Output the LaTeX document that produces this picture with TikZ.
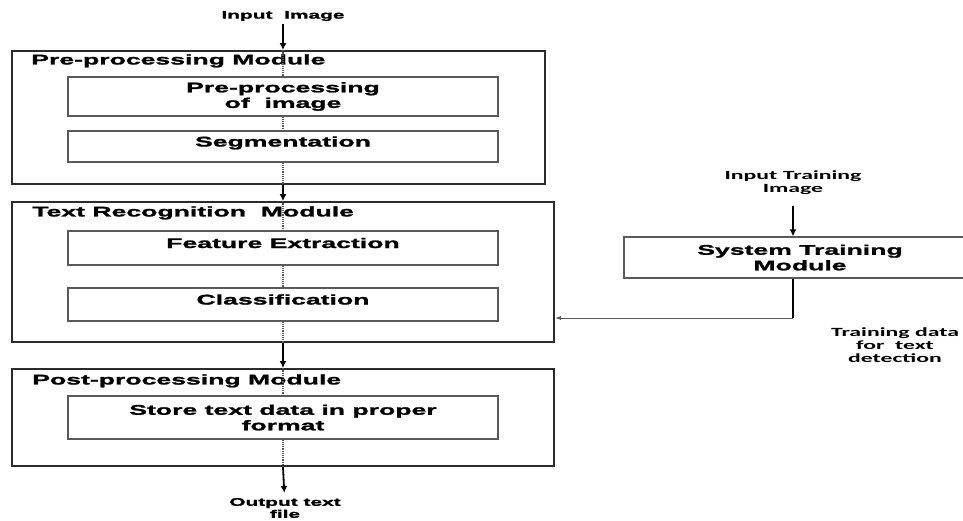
\documentclass[tikz,border=0pt]{standalone}
\usepackage{fontspec}
\newfontfamily\wfont[FakeStretch=1.9,FakeBold=1.6]{Liberation Sans}
\newfontfamily\cfont[FakeStretch=1.9]{Carlito}
\usetikzlibrary{arrows.meta,positioning,calc}
\definecolor{frame}{HTML}{2B2B2B}
\definecolor{inner}{HTML}{5A5A5A}

\begin{document}
\begin{tikzpicture}[x=1pt,y=-1pt,
  module/.style={draw=frame,line width=1.8pt},
  stage/.style={draw=inner,line width=1.3pt,minimum width=430pt,align=center,font=\wfont\bfseries\fontsize{14}{15.5}\selectfont},
  lift/.style={text height=10pt,text depth=10pt},
  title/.style={inner sep=0pt,font=\wfont\bfseries\fontsize{14}{15.5}\selectfont},
  note/.style={inner sep=0pt,align=center,font=\wfont\bfseries\fontsize{11}{12}\selectfont},
  side/.style={inner sep=0pt,align=center,font=\cfont\bfseries\fontsize{12.5}{13}\selectfont},
  flow/.style={-{Latex[length=7pt,width=7pt]},line width=1.8pt},
  link/.style={densely dotted,inner,line width=1.2pt},
  back/.style={-{Latex[length=6pt,width=4pt]},inner,line width=1pt}]
\useasboundingbox (0,0) rectangle (963,520);
\node[module,minimum width=533pt,minimum height=133pt] (pre) at (278.5,117.5) {};
\node[module,minimum width=542pt,minimum height=140pt] (rec) at (283,272) {};
\node[module,minimum width=542pt,minimum height=97pt] (post) at (283,417.5) {};
\node[title,below right=4pt and 20pt of pre.north west] (pretitle) {Pre-processing Module};
\node[title,below right=5pt and 21pt of rec.north west] (rectitle) {Text Recognition\ \ Module};
\node[title,below right=6pt and 21pt of post.north west] (posttitle) {Post-processing Module};
\node[stage,minimum height=39pt] (ppimg) at (283,96.5) {Pre-processing\\of\ \ image};
\node[stage,lift,minimum height=31pt] (seg) at (283,146.5) {Segmentation};
\node[stage,lift,minimum height=34pt] (feat) at (283,248) {Feature Extraction};
\node[stage,lift,minimum height=33pt] (cls) at (283,304.5) {Classification};
\node[stage,minimum height=43pt] (store) at (283,417.5) {Store text data in proper\\format};
\node[note] (inimg) at (283,16) {Input\ \ Image};
\node[note] (outfile) at (285,508) {Output text\\file};
% main flow
\draw[flow,shorten <=3pt] (inimg) -- (ppimg |- pre.north);
\draw[link] (ppimg |- pre.north) -- (ppimg);
\draw[link] (ppimg) -- (seg);
\draw[link] (seg) -- (seg |- pre.south);
\draw[flow] (seg |- pre.south) -- (seg |- rec.north);
\draw[link] (seg |- rec.north) -- (feat);
\draw[link] (feat) -- (cls);
\draw[link] (cls) -- (cls |- rec.south);
\draw[flow] (cls |- rec.south) -- (cls |- post.north);
\draw[link] (cls |- post.north) -- (store);
\draw[link] (store) -- (store |- post.south);
\draw[flow,shorten >=5pt] (store |- post.south) -- (outfile);
% training branch
\node[side] (intrain) at (793,182.5) {Input Training\\Image};
\node[stage,minimum width=352pt,minimum height=41pt] (train) at (800,257.5) {System Training\\Module};
\node[side] (tdata) at (895,345.5) {Training data\\for\ \ text\\detection};
\coordinate (bend) at (793,318);
\draw[flow,shorten <=11pt] (intrain) -- (intrain |- train.north);
\draw[line width=2.2pt] (bend |- train.south) -- (bend);
\draw[back] (bend) -- (bend -| rec.east);
\end{tikzpicture}
\end{document}
